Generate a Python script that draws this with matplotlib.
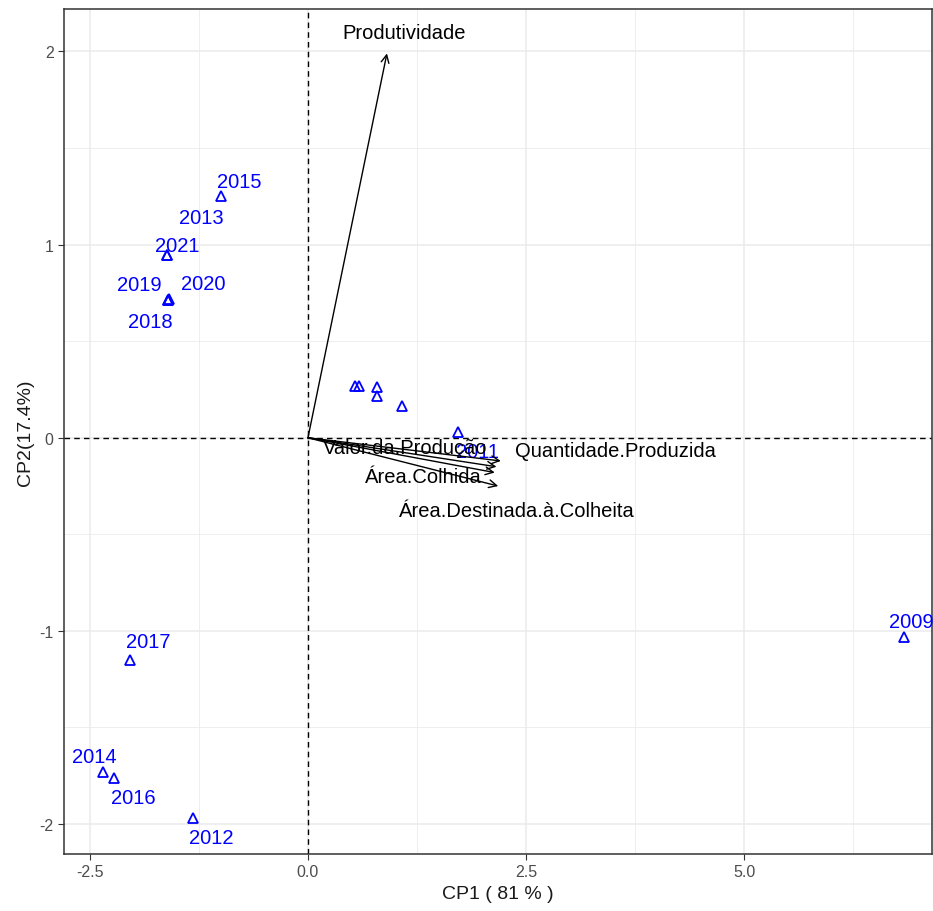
import matplotlib.pyplot as plt
import numpy as np

# individuals (scores on CP1 / CP2)
anos = ['2015', '2013', '2021', '2019', '2020', '2018', '2017', '2014', '2016',
        '2012', '2009', '2011', '', '', '', '', '']
cp1 = [-1.00, -1.62, -1.62, -1.60, -1.59, -1.60, -2.04, -2.35, -2.22,
       -1.32, 6.83, 1.72, 0.54, 0.58, 0.79, 0.79, 1.08]
cp2 = [1.25, 0.945, 0.945, 0.715, 0.72, 0.715, -1.15, -1.73, -1.76,
       -1.97, -1.03, 0.03, 0.27, 0.27, 0.264, 0.218, 0.166]

# variables (loadings)
variaveis = ['Produtividade', 'Quantidade.Produzida', 'Valor.da.Produção',
             'Área.Colhida', 'Área.Destinada.à.Colheita']
var_x = [0.905, 2.21, 2.16, 2.14, 2.18]
var_y = [1.99, -0.12, -0.15, -0.18, -0.25]

# label offsets in pixels (repel-like placement)
off_anos = [(19, 15), (35, 38), (11, 10), (-29, 15), (34, 15), (-18, -22),
            (18, 18), (-9, 15), (19, -20), (19, -19), (7, 15), (19, -20),
            (0, 0), (0, 0), (0, 0), (0, 0), (0, 0)]
off_vars = [(17, 21), (115, 10), (-91, 19), (-71, -4), (19, -24)]

plt.rcParams['font.family'] = ['Liberation Sans', 'DejaVu Sans']
plt.rcParams['axes.unicode_minus'] = False

fig = plt.figure(figsize=(9.33, 9.12), dpi=100)
ax = fig.add_axes([64/933, 57/912, 868/933, 845/912])

ax.set_xlim(-2.795, 7.15)
ax.set_ylim(-2.155, 2.22)

# grid like theme_bw
ax.set_xticks([-2.5, 0, 2.5, 5.0])
ax.set_xticklabels(['-2.5', '0.0', '2.5', '5.0'])
ax.set_yticks([-2, -1, 0, 1, 2])
ax.set_yticklabels(['-2', '-1', '0', '1', '2'])
ax.set_xticks([-1.25, 1.25, 3.75, 6.25], minor=True)
ax.set_yticks([-1.5, -0.5, 0.5, 1.5], minor=True)
ax.grid(which='major', color='#EBEBEB', linewidth=1.1)
ax.grid(which='minor', color='#EBEBEB', linewidth=0.6)
ax.set_axisbelow(True)
ax.tick_params(which='minor', length=0)
ax.tick_params(which='major', length=4, color='#333333', labelcolor='#4D4D4D',
               labelsize=11.5)
for s in ax.spines.values():
    s.set_color('#333333')
    s.set_linewidth(1.1)

ax.axhline(0, color='black', linestyle='--', linewidth=1, dashes=(4, 3))
ax.axvline(0, color='black', linestyle='--', linewidth=1, dashes=(4, 3))

# individuals
ax.plot(cp1, cp2, linestyle='none', marker='^', markersize=7,
        markerfacecolor='none', markeredgecolor='blue', markeredgewidth=1.3)
for a, x, y, o in zip(anos, cp1, cp2, off_anos):
    if a:
        ax.annotate(a, (x, y), xytext=o, textcoords='offset pixels',
                    ha='center', va='center', color='blue', fontsize=14.5,
                    annotation_clip=False)

# variables
for v, x, y, o in zip(variaveis, var_x, var_y, off_vars):
    ax.annotate('', xy=(x, y), xytext=(0, 0),
                arrowprops=dict(arrowstyle='->', color='black', lw=1,
                                mutation_scale=14, shrinkA=0, shrinkB=0))
    ax.annotate(v, (x, y), xytext=o, textcoords='offset pixels',
                ha='center', va='center', color='black', fontsize=14.5)

ax.set_xlabel('CP1 ( 81 % )', fontsize=14, color='#1A1A1A', labelpad=4)
ax.set_ylabel('CP2(17.4%)', fontsize=14, color='#1A1A1A', labelpad=4)

plt.savefig('out.png', dpi=100)
